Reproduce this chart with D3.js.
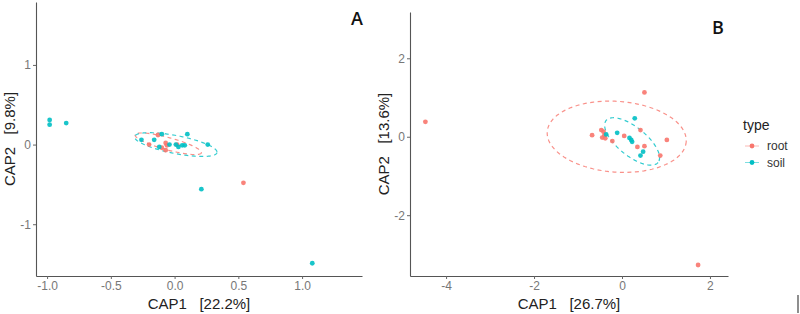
<!DOCTYPE html>
<html>
<head>
<meta charset="utf-8">
<script src="https://cdn.jsdelivr.net/npm/d3@7"></script>
<style>
  html, body { margin: 0; padding: 0; background: #fff; }
  svg { display: block; font-family: "Liberation Sans", Arial, Helvetica, sans-serif; }
  .pre { white-space: pre; }
</style>
</head>
<body>
<svg id="chart" width="800" height="314"></svg>
<script>
// ---------- data ----------
const categories = ["root", "soil"];
const colors = ["#F8766D", "#00BFC4"];

// Panel A (CAP1 22.2%, CAP2 9.8%)
const rootA_x = [-0.20, -0.13, -0.07, -0.06, -0.07, 0.02, -0.10, 0.54];
const rootA_y = [ 0.00,  0.12,  0.02, -0.01, -0.07, 0.00, -0.04, -0.48];
const soilA_x = [-0.98, -0.98, -0.85, -0.26, -0.16, -0.10, -0.12, -0.04, 0.01, 0.03, 0.06, 0.08, 0.10, 0.26, 0.21, 1.08];
const soilA_y = [ 0.31,  0.25,  0.27,  0.06,  0.06,  0.13, -0.03,  0.00, 0.00, -0.03, -0.01, -0.01, 0.13, 0.00, -0.56, -1.49];

// Panel B (CAP1 26.7%, CAP2 13.6%)
const rootB_x = [-4.47, 0.51, 1.73, -0.68, -0.47, -0.42, -0.40, -0.45, -0.38, -0.22, 0.05, 0.42, 0.35, 0.51, 0.87, 1.02];
const rootB_y = [ 0.38, 1.13, -3.27, 0.04, 0.17, 0.13, 0.04, -0.02, -0.04, -0.11, 0.02, 0.17, -0.26, -0.24, -0.48, -0.08];
const soilB_x = [-0.36, -0.11, 0.29, 0.17, 0.21, 0.23, 0.48, 0.42];
const soilB_y = [ 0.06,  0.10, 0.47, -0.03, -0.08, -0.13, -0.38, -0.48];

// ellipses: center x, center y, conjugate semi-axis vectors (data units)
const ellA_root = [-0.05, 0.01, 0.26, -0.113, -0.012, -0.075];
const ellA_soil = [ 0.01, 0.00, 0.323, -0.10, -0.013, -0.111];
const ellB_root = [-0.12, 0.00, 1.58, -0.128, -0.057, -0.90];
const ellB_soil = [ 0.23, -0.12, 0.59, -0.536, -0.205, -0.281];

const ticksA_x = [-1.0, -0.5, 0.0, 0.5, 1.0];
const ticksA_y = [-1, 0, 1];
const ticksB_x = [-4, -2, 0, 2];
const ticksB_y = [-2, 0, 2];

const svg = d3.select("#chart");
svg.append("rect").attr("width", 800).attr("height", 314).attr("fill", "#fff");

const hy = f => (d => f(d).replace("\u2212", "-"));

function panel(opt) {
  const x = d3.scaleLinear().domain(opt.xd).range([opt.left, opt.right]);
  const y = d3.scaleLinear().domain(opt.yd).range([opt.bottom, opt.top]);
  const g = svg.append("g");

  const xa = g.append("g").attr("transform", `translate(0,${opt.bottom})`)
    .call(d3.axisBottom(x).tickValues(opt.xt).tickFormat(hy(opt.xf)).tickSize(3).tickSizeOuter(0).tickPadding(2));
  const ya = g.append("g").attr("transform", `translate(${opt.left},0)`)
    .call(d3.axisLeft(y).tickValues(opt.yt).tickFormat(hy(d3.format("d"))).tickSize(3).tickSizeOuter(0).tickPadding(2));
  [xa, ya].forEach(a => {
    a.select(".domain").attr("stroke", "#555").attr("stroke-width", 1.1);
    a.selectAll(".tick line").attr("stroke", "#666");
    a.selectAll(".tick text").attr("fill", "#777").attr("font-size", 12)
      .attr("font-family", "Liberation Sans, Arial, sans-serif");
  });

  // ellipses
  const line = d3.line().x(d => x(d[0])).y(d => y(d[1]));
  opt.ells.forEach((e, i) => {
    const pts = d3.range(0, 101).map(k => {
      const t = k / 100 * 2 * Math.PI;
      return [e[0] + e[2] * Math.cos(t) + e[4] * Math.sin(t), e[1] + e[3] * Math.cos(t) + e[5] * Math.sin(t)];
    });
    g.append("path").attr("d", line(pts)).attr("fill", "none")
      .attr("stroke", colors[i]).attr("stroke-width", 1.2).attr("stroke-dasharray", "4,3.5").attr("opacity", 0.8);
  });

  // points
  opt.series.forEach((s, i) => {
    g.selectAll(null).data(d3.zip(s[0], s[1])).enter().append("circle")
      .attr("cx", d => x(d[0])).attr("cy", d => y(d[1])).attr("r", 2.4)
      .attr("fill", colors[i]).attr("opacity", 0.9);
  });

  // titles
  g.append("text").attr("class", "pre").attr("x", (opt.left + opt.right) / 2).attr("y", 303)
    .attr("text-anchor", "middle").attr("dominant-baseline", "central")
    .attr("font-size", 15).attr("fill", "#222").text(opt.xlab);
  g.append("text").attr("class", "pre")
    .attr("transform", `translate(${opt.ylabX},${(opt.top + opt.bottom) / 2}) rotate(-90)`)
    .attr("text-anchor", "middle").attr("dominant-baseline", "central")
    .attr("font-size", 15).attr("fill", "#222").text(opt.ylab);
  g.append("text").attr("x", opt.tagX).attr("y", opt.tagY).attr("text-anchor", "middle")
    .attr("dominant-baseline", "central").attr("font-size", 18).attr("font-weight", 600)
    .attr("font-family", "'Open Sans', 'Liberation Sans', sans-serif")
    .attr("fill", "#111").text(opt.tag);
}

panel({
  xd: [-1.087, 1.47], yd: [-1.65, 1.79], left: 36, right: 362, top: 2, bottom: 276,
  xt: ticksA_x, yt: ticksA_y, xf: d3.format(".1f"),
  ells: [ellA_root, ellA_soil],
  series: [[rootA_x, rootA_y], [soilA_x, soilA_y]],
  xlab: "CAP1   [22.2%]", ylab: "CAP2   [9.8%]", ylabX: 9,
  tag: "A", tagX: 357, tagY: 18
});

panel({
  xd: [-4.82, 2.41], yd: [-3.55, 3.18], left: 410, right: 728, top: 12, bottom: 276,
  xt: ticksB_x, yt: ticksB_y, xf: d3.format("d"),
  ells: [ellB_root, ellB_soil],
  series: [[rootB_x, rootB_y], [soilB_x, soilB_y]],
  xlab: "CAP1   [26.7%]", ylab: "CAP2   [13.6%]", ylabX: 383,
  tag: "B", tagX: 718, tagY: 27
});

// legend
const lg = svg.append("g");
lg.append("text").attr("x", 743).attr("y", 125).attr("dominant-baseline", "central")
  .attr("font-size", 14).attr("fill", "#222").text("type");
categories.forEach((c, i) => {
  const yy = 146 + i * 16.5;
  lg.append("line").attr("x1", 745).attr("x2", 759).attr("y1", yy).attr("y2", yy)
    .attr("stroke", colors[i]).attr("stroke-width", 1).attr("opacity", 0.5);
  lg.append("circle").attr("cx", 752).attr("cy", yy).attr("r", 2.4).attr("fill", colors[i]);
  lg.append("text").attr("x", 767).attr("y", yy).attr("dominant-baseline", "central")
    .attr("font-size", 12).attr("fill", "#333").text(c);
});

// stray mark bottom-right
svg.append("line").attr("x1", 798).attr("x2", 798).attr("y1", 295).attr("y2", 313)
  .attr("stroke", "#444").attr("stroke-width", 1.2);
</script>
</body>
</html>
